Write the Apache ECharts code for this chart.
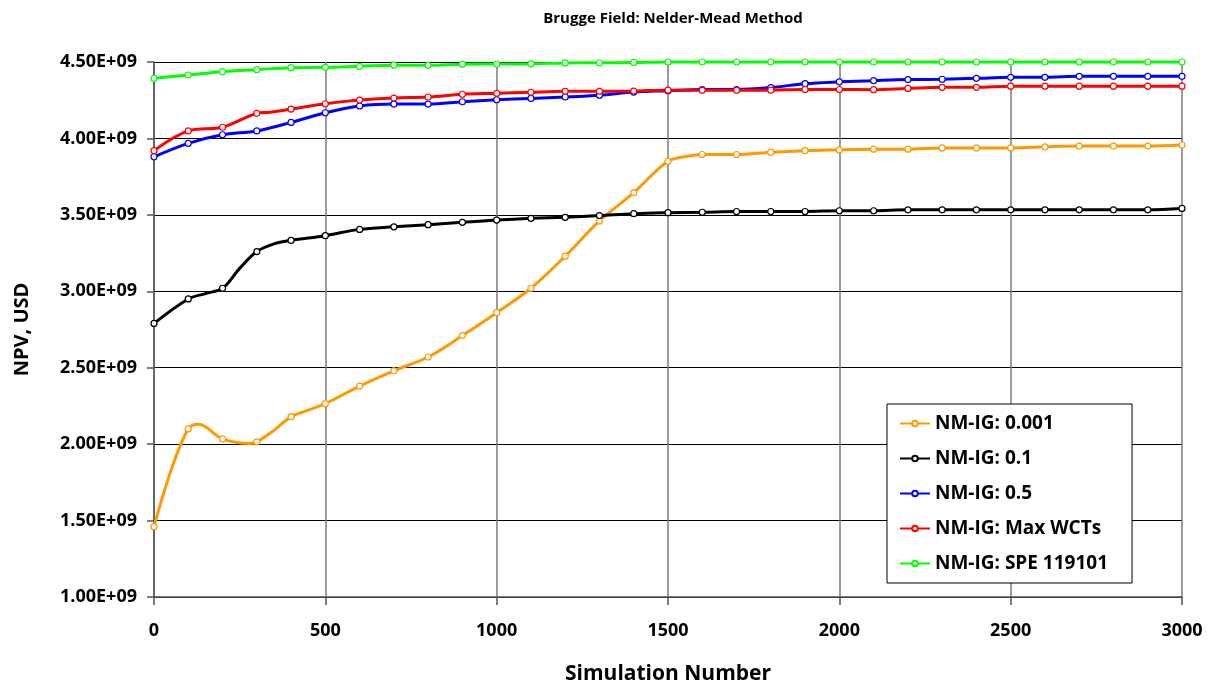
<!DOCTYPE html>
<html>
<head>
<meta charset="utf-8">
<script src="https://cdn.jsdelivr.net/npm/echarts@6/dist/echarts.min.js"></script>
<style>
  html, body { margin: 0; padding: 0; background: #fff; }
  #chart { width: 1209px; height: 688px; }
</style>
</head>
<body>
<div id="chart"></div>
<script>
// simulation numbers where markers are drawn
const simSteps = [0, 100, 200, 300, 400, 500, 600, 700, 800, 900, 1000,
  1100, 1200, 1300, 1400, 1500, 1600, 1700, 1800, 1900, 2000,
  2100, 2200, 2300, 2400, 2500, 2600, 2700, 2800, 2900, 3000];

// NPV values in units of 1E+09 USD
const ig0001 = [1.46, 2.10, 2.035, 2.015, 2.18, 2.265, 2.38, 2.48, 2.57, 2.71, 2.86,
  3.02, 3.23, 3.46, 3.645, 3.85, 3.895, 3.895, 3.91, 3.92, 3.925,
  3.93, 3.93, 3.938, 3.938, 3.938, 3.945, 3.95, 3.95, 3.95, 3.957];
const ig01 = [2.79, 2.95, 3.02, 3.26, 3.333, 3.364, 3.405, 3.422, 3.436, 3.451, 3.466,
  3.477, 3.484, 3.495, 3.508, 3.514, 3.517, 3.522, 3.522, 3.522, 3.527,
  3.527, 3.533, 3.533, 3.533, 3.533, 3.533, 3.533, 3.533, 3.533, 3.542];
const ig05 = [3.88, 3.968, 4.024, 4.049, 4.105, 4.168, 4.212, 4.225, 4.225, 4.24, 4.253,
  4.262, 4.271, 4.283, 4.303, 4.312, 4.32, 4.32, 4.333, 4.358, 4.37,
  4.378, 4.385, 4.387, 4.393, 4.4, 4.4, 4.406, 4.406, 4.406, 4.406];
const igMaxWct = [3.92, 4.049, 4.073, 4.164, 4.192, 4.227, 4.251, 4.264, 4.271, 4.289, 4.295,
  4.302, 4.308, 4.308, 4.31, 4.316, 4.315, 4.315, 4.316, 4.32, 4.32,
  4.319, 4.327, 4.334, 4.334, 4.342, 4.342, 4.342, 4.342, 4.342, 4.342];
const igSpe = [4.393, 4.415, 4.437, 4.45, 4.463, 4.465, 4.472, 4.479, 4.478, 4.486, 4.487,
  4.488, 4.494, 4.495, 4.497, 4.5, 4.5, 4.5, 4.5, 4.5, 4.5,
  4.5, 4.5, 4.5, 4.5, 4.5, 4.5, 4.5, 4.5, 4.5, 4.5];

// extra unmarked points between markers (curve shape)
const ig0001Knots = [[50, 1.83], [130, 2.13], [280, 2.005], [350, 2.09], [440, 2.215], [1560, 3.885]];
const ig01Knots = [[150, 2.985], [250, 3.15], [350, 3.31]];
const igMaxWctKnots = [[340, 4.172]];

const yTicks = [1.0, 1.5, 2.0, 2.5, 3.0, 3.5, 4.0, 4.5];

const font = '"Open Sans", Lato, sans-serif';

function buildData(values, knots) {
  const pts = simSteps.map((x, i) => [x, values[i]]);
  (knots || []).forEach(k => pts.push(k));
  return pts.sort((a, b) => a[0] - b[0]);
}

function makeSeries(name, color, values, knots) {
  return {
    name: name,
    type: 'line',
    data: buildData(values, knots),
    smooth: 0.35,
    clip: false,
    symbol: (val) => (val[0] % 100 === 0 ? 'circle' : 'none'),
    symbolSize: 6,
    showAllSymbol: true,
    lineStyle: { color: color, width: 3 },
    itemStyle: { color: '#fff', borderColor: color, borderWidth: 1.2 }
  };
}

const chart = echarts.init(document.getElementById('chart'));
chart.setOption({
  animation: false,
  backgroundColor: '#fff',
  textStyle: { fontFamily: font },
  title: {
    text: 'Brugge Field: Nelder-Mead Method',
    left: 668,
    textAlign: 'center',
    top: 6,
    textStyle: { fontFamily: font, fontSize: 15, fontWeight: 'bold', color: '#000' }
  },
  grid: { left: 154, right: 27, top: 62, bottom: 91, containLabel: false, outerBoundsMode: 'none' },
  legend: {
    orient: 'vertical',
    left: 887,
    top: 404,
    padding: [9, 24, 9, 12],
    itemGap: 14,
    itemWidth: 30,
    itemHeight: 7,
    borderColor: '#000',
    borderWidth: 1,
    backgroundColor: '#fff',
    textStyle: { fontFamily: font, fontSize: 19, fontWeight: 'bold', color: '#000', lineHeight: 21 },
    data: ['NM-IG: 0.001', 'NM-IG: 0.1', 'NM-IG: 0.5', 'NM-IG: Max WCTs', 'NM-IG: SPE 119101']
  },
  xAxis: {
    type: 'value',
    min: 0,
    max: 3000,
    interval: 500,
    name: 'Simulation Number',
    nameLocation: 'middle',
    nameGap: 67,
    nameTextStyle: { fontFamily: font, fontSize: 21, fontWeight: 'bold', color: '#000' },
    axisLine: { onZero: false, lineStyle: { color: '#555', width: 1.5 } },
    axisTick: { show: true, length: 8, inside: false, lineStyle: { color: '#555', width: 1.5 } },
    axisLabel: {
      fontFamily: font, fontSize: 18, fontWeight: 'bold', color: '#000', margin: 25,
      formatter: (v) => String(v)
    },
    splitLine: { show: true, lineStyle: { color: '#7a7a7a', width: 1.5 } }
  },
  yAxis: {
    type: 'value',
    min: 1.0,
    max: 4.5,
    interval: 0.5,
    name: 'NPV, USD',
    nameLocation: 'middle',
    nameGap: 122,
    nameTextStyle: { fontFamily: font, fontSize: 20, fontWeight: 'bold', color: '#000' },
    axisLine: { show: true, lineStyle: { color: '#555', width: 1.5 } },
    axisTick: { show: true, length: 7, inside: false, lineStyle: { color: '#555', width: 1.5 } },
    axisLabel: {
      fontFamily: font, fontSize: 18, fontWeight: 'bold', color: '#000', margin: 17,
      formatter: (v) => (yTicks.some(t => Math.abs(t - v) < 1e-9) ? v.toFixed(2) + 'E+09' : '')
    },
    splitLine: { show: true, lineStyle: { color: '#000', width: 1 } }
  },
  series: [
    makeSeries('NM-IG: 0.001', '#FF9900', ig0001, ig0001Knots),
    makeSeries('NM-IG: 0.1', '#000000', ig01, ig01Knots),
    makeSeries('NM-IG: 0.5', '#0000FF', ig05),
    makeSeries('NM-IG: Max WCTs', '#FF0000', igMaxWct, igMaxWctKnots),
    makeSeries('NM-IG: SPE 119101', '#00FF00', igSpe)
  ]
});
</script>
</body>
</html>
